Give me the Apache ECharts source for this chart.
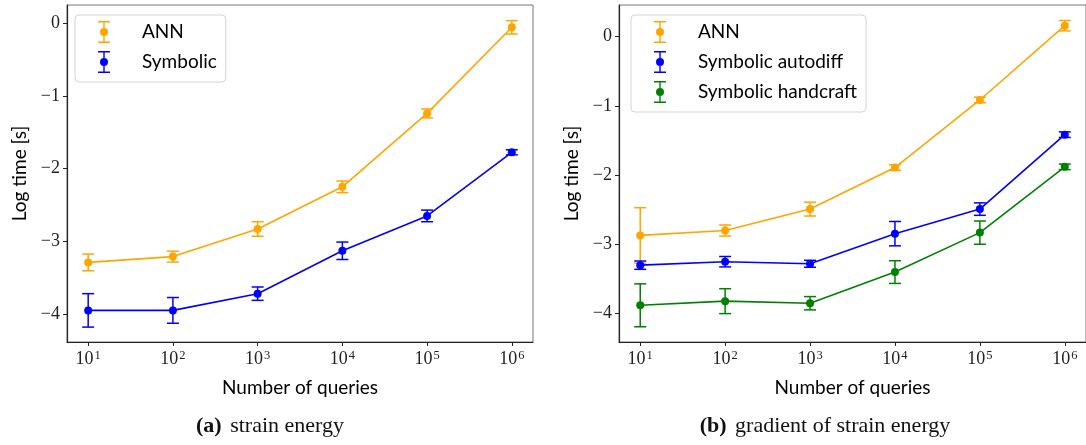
<!DOCTYPE html>
<html>
<head>
<meta charset="utf-8">
<script src="https://cdn.jsdelivr.net/npm/echarts@6/dist/echarts.min.js"></script>
<style>html,body{margin:0;padding:0;background:#fff}#c{width:1086px;height:445px}</style>
</head>
<body>
<div id="c"></div>
<script>
// ---- data ----
var queries = [10, 100, 1000, 10000, 100000, 1000000];
var xTicks = [10, 100, 1000, 10000, 100000, 1000000];
var yTicks = [-4, -3, -2, -1, 0];

// (a) strain energy
var aAnn = [-3.29, -3.21, -2.83, -2.25, -1.24, -0.055];
var aAnnErr = [0.115, 0.075, 0.10, 0.08, 0.062, 0.092];
var aSym = [-3.95, -3.95, -3.72, -3.13, -2.65, -1.775];
var aSymErr = [0.23, 0.177, 0.092, 0.12, 0.08, 0.035];

// (b) gradient of strain energy
var bAnn = [-2.87, -2.80, -2.49, -1.89, -0.914, 0.159];
var bAnnErr = [0.40, 0.08, 0.10, 0.04, 0.04, 0.075];
var bAuto = [-3.30, -3.25, -3.28, -2.845, -2.49, -1.415];
var bAutoErr = [0.06, 0.075, 0.05, 0.176, 0.09, 0.04];
var bHand = [-3.88, -3.82, -3.85, -3.40, -2.83, -1.88];
var bHandErr = [0.31, 0.18, 0.096, 0.164, 0.168, 0.04];

var captions = ['{b|(a)} strain energy', '{b|(b)} gradient of strain energy'];
var xName = 'Number of queries';
var yName = 'Log time [s]';

var ORANGE = '#FFA500', BLUE = '#0000FF', GREEN = '#008000';
var SANS = 'Lato, sans-serif';
var SERIF = '"Liberation Serif", serif';

var ICON = 'path://M0,0L12,0L12,1.4L0,1.4Z M5.3,1.4L6.7,1.4L6.7,7L5.3,7Z M5.3,15L6.7,15L6.7,20.6L5.3,20.6Z M0,20.6L12,20.6L12,22L0,22Z M2,11A4,4 0 1,1 10,11A4,4 0 1,1 2,11Z';

function pts(ys) { return queries.map(function (q, i) { return [q, ys[i]]; }); }
function errPts(ys, es) { return queries.map(function (q, i) { return [q, ys[i], es[i]]; }); }

function errSeries(name, idx, ys, es, color) {
  return {
    type: 'custom', name: name, xAxisIndex: idx, yAxisIndex: idx, z: 2,
    data: errPts(ys, es),
    renderItem: function (params, api) {
      var x = api.value(0), y = api.value(1), e = api.value(2);
      var t = api.coord([x, y + e]), b = api.coord([x, y - e]);
      var st = { stroke: color, lineWidth: 1.5, fill: null };
      return { type: 'group', children: [
        { type: 'line', shape: { x1: t[0], y1: t[1], x2: b[0], y2: b[1] }, style: st },
        { type: 'line', shape: { x1: t[0] - 6, y1: t[1], x2: t[0] + 6, y2: t[1] }, style: st },
        { type: 'line', shape: { x1: b[0] - 6, y1: b[1], x2: b[0] + 6, y2: b[1] }, style: st }
      ]};
    }
  };
}
function lineSeries(name, idx, ys, color) {
  return {
    type: 'line', name: name, xAxisIndex: idx, yAxisIndex: idx, z: 3,
    data: pts(ys), symbol: 'circle', symbolSize: 8, showSymbol: true,
    itemStyle: { color: color }, lineStyle: { color: color, width: 1.6 },
    emphasis: { disabled: true }, animation: false
  };
}

function xAxis(idx) {
  return {
    type: 'log', logBase: 10, gridIndex: idx,
    min: Math.pow(10, 0.75), max: Math.pow(10, 6.25),
    name: xName, nameLocation: 'middle', nameGap: 36,
    nameTextStyle: { fontFamily: SANS, fontSize: 19, color: '#000' },
    axisLine: { show: true, onZero: false, lineStyle: { color: '#222', width: 1.2 } },
    axisTick: { show: true, inside: false, length: 4, customValues: xTicks, lineStyle: { color: '#222' } },
    axisLabel: {
      customValues: xTicks, margin: 7, color: '#222', fontFamily: SERIF, fontSize: 18,
      formatter: function (v) { return '10{s|' + Math.round(Math.log10(v)) + '}'; },
      rich: { s: { fontFamily: SERIF, fontSize: 12.5, color: '#222', padding: [0, 0, 8, 1] } }
    },
    splitLine: { show: false }, minorTick: { show: false }, minorSplitLine: { show: false }
  };
}
function yAxis(idx, min, max) {
  return {
    type: 'value', gridIndex: idx, min: min, max: max,
    name: yName, nameLocation: 'middle', nameGap: 38, nameRotate: 90,
    nameTextStyle: { fontFamily: SANS, fontSize: 19, color: '#000' },
    axisLine: { show: true, onZero: false, lineStyle: { color: '#222', width: 1.2 } },
    axisTick: { show: true, inside: false, length: 4, customValues: yTicks, lineStyle: { color: '#222' } },
    axisLabel: {
      customValues: yTicks, margin: 7, color: '#222', fontFamily: SERIF, fontSize: 18,
      formatter: function (v) { return v < 0 ? '\u2212' + Math.abs(v) : String(v); }
    },
    splitLine: { show: false }
  };
}
function legend(left, top, items) {
  return {
    left: left, top: top, orient: 'vertical',
    itemWidth: 12, itemHeight: 22, itemGap: 8,
    padding: [6, 9, 9, 23],
    backgroundColor: 'rgba(255,255,255,0.85)', borderColor: '#d4d4d4', borderWidth: 1, borderRadius: 4,
    textStyle: { fontFamily: SANS, fontSize: 19, color: '#000', padding: [0, 0, 0, 27] },
    selectedMode: false,
    data: items.map(function (it) { return { name: it[0], icon: ICON, itemStyle: { color: it[1] } }; })
  };
}

var capStyle = { fontFamily: SERIF, fontSize: 22, fontWeight: 'normal', color: '#111',
  rich: { b: { fontFamily: SERIF, fontSize: 22, fontWeight: 'bold', color: '#111', padding: [0, 3, 0, 0] } } };

var option = {
  animation: false,
  backgroundColor: '#fff',
  grid: [
    { left: 67, top: 5, width: 466, height: 337, show: true, borderColor: '#777', borderWidth: 1, backgroundColor: 'transparent' },
    { left: 619, top: 5, width: 470, height: 337, show: true, borderColor: '#777', borderWidth: 1, backgroundColor: 'transparent' }
  ],
  xAxis: [xAxis(0), xAxis(1)],
  yAxis: [yAxis(0, -4.385, 0.252), yAxis(1, -4.41, 0.458)],
  legend: [
    legend(75, 15, [['ANN', ORANGE], ['Symbolic', BLUE]]),
    legend(631, 15, [['ANN', ORANGE], ['Symbolic autodiff', BLUE], ['Symbolic handcraft', GREEN]])
  ],
  title: [
    { text: captions[0], left: 270, top: 415, textAlign: 'center', padding: 0, textStyle: capStyle },
    { text: captions[1], left: 825, top: 415, textAlign: 'center', padding: 0, textStyle: capStyle }
  ],
  series: [
    errSeries('ANN', 0, aAnn, aAnnErr, ORANGE),
    lineSeries('ANN', 0, aAnn, ORANGE),
    errSeries('Symbolic', 0, aSym, aSymErr, BLUE),
    lineSeries('Symbolic', 0, aSym, BLUE),
    errSeries('ANN', 1, bAnn, bAnnErr, ORANGE),
    lineSeries('ANN', 1, bAnn, ORANGE),
    errSeries('Symbolic autodiff', 1, bAuto, bAutoErr, BLUE),
    lineSeries('Symbolic autodiff', 1, bAuto, BLUE),
    errSeries('Symbolic handcraft', 1, bHand, bHandErr, GREEN),
    lineSeries('Symbolic handcraft', 1, bHand, GREEN)
  ]
};
var chart = echarts.init(document.getElementById('c'), null, { renderer: 'canvas' });
chart.setOption(option);
</script>
</body>
</html>
